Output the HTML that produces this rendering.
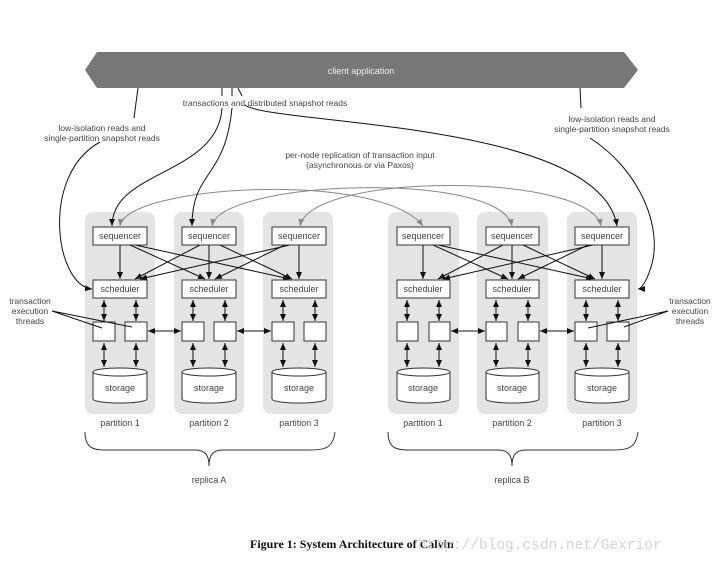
<!DOCTYPE html>
<html><head><meta charset="utf-8"><style>
html,body{margin:0;padding:0;background:#fff;}
svg{display:block;}
text{font-family:"Liberation Sans",sans-serif;fill:#444;}
</style></head><body>
<svg width="720" height="564" viewBox="0 0 720 564" xmlns="http://www.w3.org/2000/svg">
<defs>
<marker id="ab" markerWidth="8" markerHeight="8" refX="7" refY="4" orient="auto-start-reverse" markerUnits="userSpaceOnUse"><path d="M0,1 L7,4 L0,7 z" fill="#111"/></marker>
<marker id="ag" markerWidth="8" markerHeight="8" refX="7" refY="4" orient="auto-start-reverse" markerUnits="userSpaceOnUse"><path d="M0,1 L7,4 L0,7 z" fill="#888"/></marker>
</defs>
<polygon points="85,70 97,52 624,52 638,70 624,88 97,88" fill="#777"/>
<text x="361" y="74" font-size="9" text-anchor="middle" style="fill:#eee">client application</text>

<g fill="#e4e4e4">
<rect x="85" y="212" width="70" height="202" rx="8"/>
<rect x="174" y="212" width="70" height="202" rx="8"/>
<rect x="263" y="212" width="70" height="202" rx="8"/>
<rect x="388" y="212" width="71" height="202" rx="8"/>
<rect x="477" y="212" width="71" height="202" rx="8"/>
<rect x="567" y="212" width="70" height="202" rx="8"/>
</g>

<g stroke="#888" stroke-width="1" fill="none">
<path d="M120,226 C125,185 380,170 423,226" marker-start="url(#ag)" marker-end="url(#ag)"/>
<path d="M212,226 C220,180 500,170 512,226" marker-start="url(#ag)" marker-end="url(#ag)"/>
<path d="M300,226 C310,172 590,172 601,226" marker-start="url(#ag)" marker-end="url(#ag)"/>
</g>

<g stroke="#111" stroke-width="1" fill="none">
<path d="M222,88 L222,96 M232,88 L232,96 M238,88 Q240,92 242,96"/>
<path d="M222,108 C218,175 112,170 112,226" marker-end="url(#ab)"/>
<path d="M232,108 C225,180 192,170 192,226" marker-end="url(#ab)"/>
<path d="M245,105 C270,125 600,120 617,226" marker-end="url(#ab)"/>
<path d="M138,88 L134,118"/>
<path d="M100,142 C40,175 55,285 92,289" marker-end="url(#ab)"/>
<path d="M580,88 L581,108"/>
<path d="M590,138 C640,170 665,230 650,270 C645,285 640,289 638,289" marker-end="url(#ab)"/>
</g>

<text x="265" y="106" font-size="8.5" text-anchor="middle">transactions and distributed snapshot reads</text>
<text x="102" y="131" font-size="8.5" text-anchor="middle">low-isolation reads and</text>
<text x="102" y="141" font-size="8.5" text-anchor="middle">single-partition snapshot reads</text>
<text x="612" y="122" font-size="8.5" text-anchor="middle">low-isolation reads and</text>
<text x="612" y="132" font-size="8.5" text-anchor="middle">single-partition snapshot reads</text>
<text x="360" y="158" font-size="8.5" text-anchor="middle">per-node replication of transaction input</text>
<text x="360" y="168" font-size="8.5" text-anchor="middle">(asynchronous or via Paxos)</text>

<g stroke="#111" stroke-width="1" marker-end="url(#ab)">
<line x1="120" y1="245" x2="120" y2="279"/><line x1="209" y1="245" x2="209" y2="279"/><line x1="299" y1="245" x2="299" y2="279"/>
<line x1="130" y1="245" x2="205" y2="279"/><line x1="135" y1="245" x2="290" y2="279"/>
<line x1="200" y1="245" x2="135" y2="279"/><line x1="220" y1="245" x2="292" y2="279"/>
<line x1="285" y1="245" x2="215" y2="279"/><line x1="290" y1="245" x2="140" y2="279"/>
<line x1="423" y1="245" x2="423" y2="279"/><line x1="512" y1="245" x2="512" y2="279"/><line x1="602" y1="245" x2="602" y2="279"/>
<line x1="433" y1="245" x2="508" y2="279"/><line x1="438" y1="245" x2="593" y2="279"/>
<line x1="503" y1="245" x2="438" y2="279"/><line x1="523" y1="245" x2="595" y2="279"/>
<line x1="588" y1="245" x2="518" y2="279"/><line x1="593" y1="245" x2="443" y2="279"/>
</g>

<g fill="#fff" stroke="#333" stroke-width="1">
<rect x="93" y="227" width="54" height="18"/><rect x="182" y="227" width="54" height="18"/><rect x="272" y="227" width="54" height="18"/>
<rect x="397" y="227" width="53" height="18"/><rect x="486" y="227" width="53" height="18"/><rect x="575" y="227" width="54" height="18"/>
<rect x="93" y="280" width="54" height="18"/><rect x="182" y="280" width="54" height="18"/><rect x="272" y="280" width="54" height="18"/>
<rect x="397" y="280" width="53" height="18"/><rect x="486" y="280" width="53" height="18"/><rect x="575" y="280" width="54" height="18"/>
</g>
<g font-size="9" text-anchor="middle">
<text x="120" y="239">sequencer</text><text x="209" y="239">sequencer</text><text x="299" y="239">sequencer</text>
<text x="423" y="239">sequencer</text><text x="512" y="239">sequencer</text><text x="602" y="239">sequencer</text>
<text x="120" y="292">scheduler</text><text x="209" y="292">scheduler</text><text x="299" y="292">scheduler</text>
<text x="423" y="292">scheduler</text><text x="512" y="292">scheduler</text><text x="602" y="292">scheduler</text>
</g>

<g stroke="#111" stroke-width="1" marker-start="url(#ab)" marker-end="url(#ab)">
<line x1="104" y1="300" x2="104" y2="321"/><line x1="136" y1="300" x2="136" y2="321"/>
<line x1="193" y1="300" x2="193" y2="321"/><line x1="225" y1="300" x2="225" y2="321"/>
<line x1="283" y1="300" x2="283" y2="321"/><line x1="315" y1="300" x2="315" y2="321"/>
<line x1="407" y1="300" x2="407" y2="321"/><line x1="439" y1="300" x2="439" y2="321"/>
<line x1="496" y1="300" x2="496" y2="321"/><line x1="528" y1="300" x2="528" y2="321"/>
<line x1="586" y1="300" x2="586" y2="321"/><line x1="618" y1="300" x2="618" y2="321"/>
<line x1="104" y1="343" x2="104" y2="367"/><line x1="136" y1="343" x2="136" y2="367"/>
<line x1="193" y1="343" x2="193" y2="367"/><line x1="225" y1="343" x2="225" y2="367"/>
<line x1="283" y1="343" x2="283" y2="367"/><line x1="315" y1="343" x2="315" y2="367"/>
<line x1="407" y1="343" x2="407" y2="367"/><line x1="439" y1="343" x2="439" y2="367"/>
<line x1="496" y1="343" x2="496" y2="367"/><line x1="528" y1="343" x2="528" y2="367"/>
<line x1="586" y1="343" x2="586" y2="367"/><line x1="618" y1="343" x2="618" y2="367"/>
<line x1="148" y1="331" x2="181" y2="331"/><line x1="237" y1="331" x2="271" y2="331"/>
<line x1="451" y1="331" x2="485" y2="331"/><line x1="540" y1="331" x2="574" y2="331"/>
</g>
<g fill="#fff" stroke="#333" stroke-width="1">
<rect x="93" y="322" width="22" height="19"/><rect x="125" y="322" width="22" height="19"/>
<rect x="182" y="322" width="22" height="19"/><rect x="214" y="322" width="22" height="19"/>
<rect x="272" y="322" width="22" height="19"/><rect x="304" y="322" width="22" height="19"/>
<rect x="397" y="322" width="21" height="19"/><rect x="429" y="322" width="21" height="19"/>
<rect x="486" y="322" width="21" height="19"/><rect x="518" y="322" width="21" height="19"/>
<rect x="575" y="322" width="22" height="19"/><rect x="607" y="322" width="22" height="19"/>
</g>
<g fill="#fff" stroke="#333" stroke-width="1">
<path d="M93,372 L93,399 A27,4 0 0 0 147,399 L147,372 A27,4 0 0 0 93,372 A27,4 0 0 0 147,372"/>
<path d="M182,372 L182,399 A27,4 0 0 0 236,399 L236,372 A27,4 0 0 0 182,372 A27,4 0 0 0 236,372"/>
<path d="M272,372 L272,399 A27,4 0 0 0 326,399 L326,372 A27,4 0 0 0 272,372 A27,4 0 0 0 326,372"/>
<path d="M397,372 L397,399 A26.5,4 0 0 0 450,399 L450,372 A26.5,4 0 0 0 397,372 A26.5,4 0 0 0 450,372"/>
<path d="M486,372 L486,399 A26.5,4 0 0 0 539,399 L539,372 A26.5,4 0 0 0 486,372 A26.5,4 0 0 0 539,372"/>
<path d="M575,372 L575,399 A27,4 0 0 0 629,399 L629,372 A27,4 0 0 0 575,372 A27,4 0 0 0 629,372"/>
</g>
<g font-size="9" text-anchor="middle">
<text x="120" y="391">storage</text><text x="209" y="391">storage</text><text x="299" y="391">storage</text>
<text x="423" y="391">storage</text><text x="512" y="391">storage</text><text x="602" y="391">storage</text>
<text x="120" y="426">partition 1</text><text x="209" y="426">partition 2</text><text x="299" y="426">partition 3</text>
<text x="423" y="426">partition 1</text><text x="512" y="426">partition 2</text><text x="602" y="426">partition 3</text>
<text x="209" y="483">replica A</text><text x="512" y="483">replica B</text>
</g>

<g font-size="8.5" text-anchor="middle">
<text x="30" y="304">transaction</text><text x="30" y="314">execution</text><text x="30" y="324">threads</text>
<text x="690" y="304">transaction</text><text x="690" y="314">execution</text><text x="690" y="324">threads</text>
</g>
<g stroke="#111" stroke-width="1" fill="none">
<path d="M52,311 L102,328 M52,311 L132,327"/>
<path d="M668,311 L588,328 M668,311 L624,327"/>
</g>

<g stroke="#333" stroke-width="1" fill="none">
<path d="M85,432 C85,450 95,450 110,450 L195,450 C205,450 209,455 209,466 C209,455 213,450 223,450 L310,450 C325,450 333,448 335,432"/>
<path d="M388,432 C388,450 398,450 413,450 L498,450 C508,450 512,455 512,466 C512,455 516,450 526,450 L613,450 C628,450 636,448 638,432"/>
</g>

<text x="250" y="548" font-size="12" font-weight="bold" style="font-family:'Liberation Serif',serif;fill:#111">Figure 1: System Architecture of Calvin</text>
<text x="418" y="549" font-size="14.5" style="font-family:'Liberation Mono',monospace;fill:#d4d4d4">http://blog.csdn.net/Gexrior</text>
</svg>
</body></html>
